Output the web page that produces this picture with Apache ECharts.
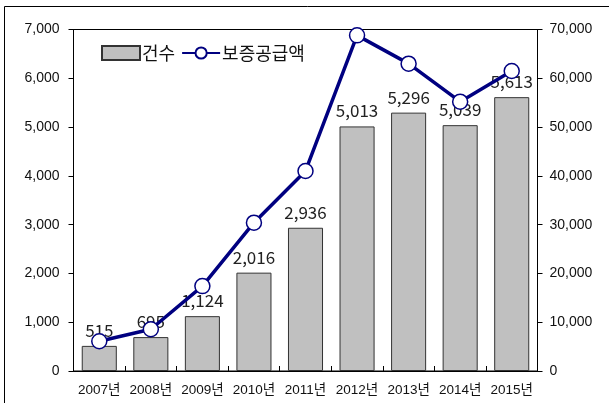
<!DOCTYPE html>
<html><head><meta charset="utf-8">
<script src="https://cdn.jsdelivr.net/npm/echarts@6/dist/echarts.min.js"></script>
<style>html,body{margin:0;padding:0;background:#fff}#c{width:609px;height:403px}</style>
</head><body><div id="c"></div>
<script>
const categories = ['2007년','2008년','2009년','2010년','2011년','2012년','2013년','2014년','2015년'];
const counts = [515, 695, 1124, 2016, 2936, 5013, 5296, 5039, 5613];
const amounts = [6100, 8560, 17400, 30400, 41000, 68800, 63000, 55200, 61500];
const leftTicks = {min: 0, max: 7000, interval: 1000};
const rightTicks = {min: 0, max: 70000, interval: 10000};
const FONT = "'Noto Sans CJK KR', 'Noto Sans', sans-serif";
const AXFONT = "'Liberation Sans', 'Noto Sans CJK KR', sans-serif";
const fmt = v => v.toLocaleString('en-US');

const chart = echarts.init(document.getElementById('c'), null, {renderer: 'canvas'});
chart.setOption({
  animation: false,
  textStyle: {fontFamily: FONT},
  graphic: [{type: 'rect', shape: {x: 4.5, y: 6.5, width: 700, height: 500}, style: {fill: 'none', stroke: '#000', lineWidth: 1}, z: 0}],
  grid: {left: 73.5, right: 71.5, top: 29.5, bottom: 32, show: true, borderColor: '#000', borderWidth: 1},
  legend: {
    left: 96, top: 39, itemWidth: 38, itemHeight: 14, itemGap: 6,
    textStyle: {fontSize: 18, color: '#111', fontFamily: FONT, padding: [0, 0, 0, -3]},
    data: [{name: '건수', icon: 'rect'}, {name: '보증공급액'}]
  },
  xAxis: {
    type: 'category', data: categories,
    axisLine: {lineStyle: {color: '#000', width: 1}},
    axisTick: {show: true, inside: true, length: 5, lineStyle: {color: '#000'}},
    axisLabel: {interval: 0, fontSize: 13.5, color: '#111', margin: 13, fontFamily: AXFONT, hideOverlap: false}
  },
  yAxis: [
    {type: 'value', min: leftTicks.min, max: leftTicks.max, interval: leftTicks.interval,
     splitLine: {show: false},
     axisLine: {show: true, lineStyle: {color: '#000'}},
     axisTick: {show: true, length: 5, lineStyle: {color: '#000'}},
     axisLabel: {fontSize: 14, color: '#111', margin: 14, formatter: fmt, fontFamily: AXFONT}},
    {type: 'value', min: rightTicks.min, max: rightTicks.max, interval: rightTicks.interval,
     splitLine: {show: false},
     axisLine: {show: true, lineStyle: {color: '#000'}},
     axisTick: {show: true, length: 5, lineStyle: {color: '#000'}},
     axisLabel: {fontSize: 14, color: '#111', margin: 12, formatter: fmt, fontFamily: AXFONT}}
  ],
  series: [
    {name: '건수', type: 'bar', data: counts, yAxisIndex: 0, barWidth: '68%', z: 2,
     itemStyle: {color: '#C0C0C0', borderColor: '#333', borderWidth: 1},
     label: {show: true, position: 'top', distance: 7, fontSize: 17, color: '#222', fontFamily: FONT,
             formatter: p => fmt(p.value)}},
    {name: '보증공급액', type: 'line', data: amounts, yAxisIndex: 1, z: 5,
     symbol: 'circle', symbolSize: 15,
     lineStyle: {color: '#000080', width: 3.5},
     itemStyle: {color: '#fff', borderColor: '#000080', borderWidth: 1.5}}
  ]
});
</script></body></html>
